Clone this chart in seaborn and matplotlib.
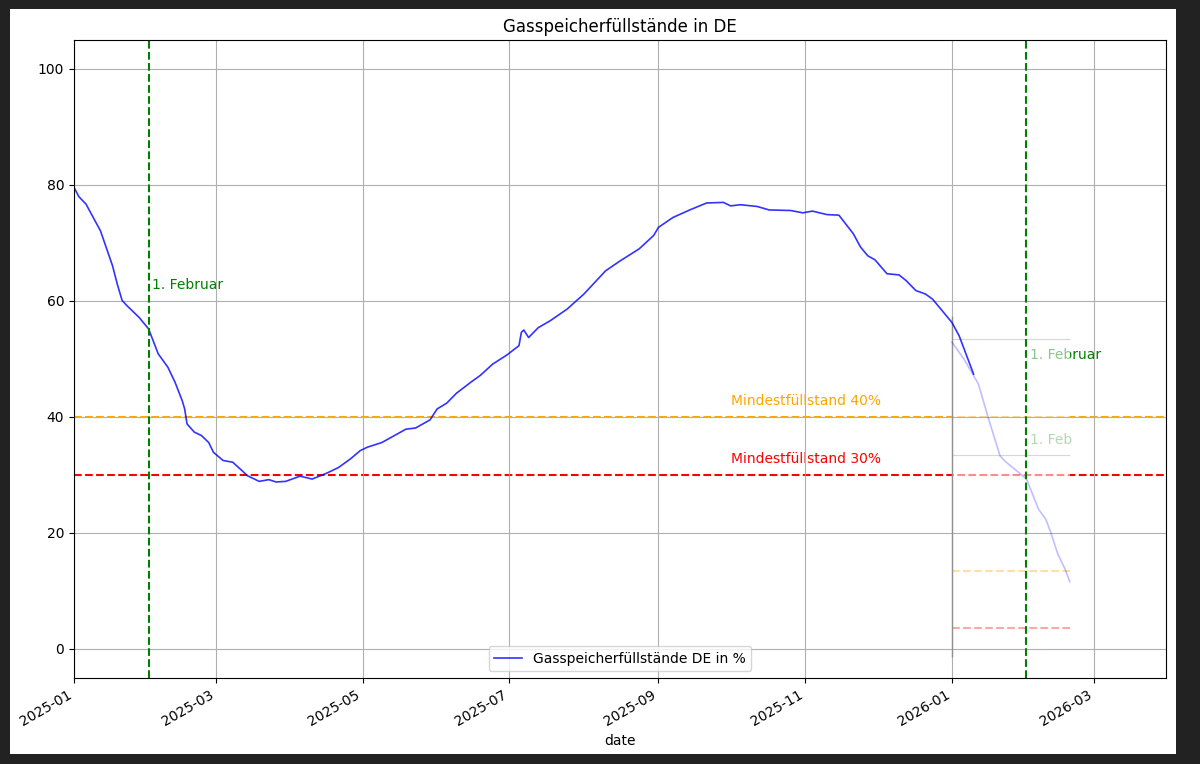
import pandas as pd
import matplotlib.pyplot as plt
import matplotlib.dates as mdates
from matplotlib.patches import Rectangle
import seaborn as sns

# Daten
dates = [
    "2025-01-01", "2025-01-03", "2025-01-06", "2025-01-12", "2025-01-17", "2025-01-19", "2025-01-21",
    "2025-01-23", "2025-01-28", "2025-02-01", "2025-02-05", "2025-02-09", "2025-02-12",
    "2025-02-15", "2025-02-16", "2025-02-17", "2025-02-20", "2025-02-23", "2025-02-26",
    "2025-02-28", "2025-03-04", "2025-03-08", "2025-03-12", "2025-03-14", "2025-03-19",
    "2025-03-23", "2025-03-26", "2025-03-30", "2025-04-05", "2025-04-10", "2025-04-16",
    "2025-04-21", "2025-04-26", "2025-04-30", "2025-05-03", "2025-05-09", "2025-05-19",
    "2025-05-23", "2025-05-29", "2025-06-01", "2025-06-05", "2025-06-09", "2025-06-15",
    "2025-06-19", "2025-06-24", "2025-06-30", "2025-07-05", "2025-07-06", "2025-07-07",
    "2025-07-09", "2025-07-13", "2025-07-18", "2025-07-25", "2025-08-01", "2025-08-10",
    "2025-08-16", "2025-08-24", "2025-08-30", "2025-09-01", "2025-09-07", "2025-09-14",
    "2025-09-21", "2025-09-28", "2025-10-01", "2025-10-05", "2025-10-12", "2025-10-17",
    "2025-10-26", "2025-10-31", "2025-11-04", "2025-11-10", "2025-11-15", "2025-11-21",
    "2025-11-24", "2025-11-27", "2025-11-30", "2025-12-05", "2025-12-10", "2025-12-13",
    "2025-12-17", "2025-12-21", "2025-12-24", "2026-01-01", "2026-01-04", "2026-01-10",
]
values = [
    79.6, 78.0, 76.7, 72.1, 66.1, 62.9, 60.1,
    59.2, 57.2, 55.2, 50.9, 48.6, 46.0,
    42.8, 41.4, 38.8, 37.4, 36.8, 35.6,
    33.9, 32.5, 32.2, 30.7, 29.9, 28.9,
    29.2, 28.8, 28.9, 29.8, 29.3, 30.3,
    31.3, 32.8, 34.2, 34.8, 35.6, 37.9,
    38.1, 39.5, 41.4, 42.4, 44.1, 46.0,
    47.2, 49.1, 50.7, 52.3, 54.6, 55.0,
    53.7, 55.4, 56.6, 58.6, 61.2, 65.2,
    66.9, 69.0, 71.3, 72.7, 74.4, 75.7,
    76.9, 77.0, 76.4, 76.6, 76.3, 75.7,
    75.6, 75.2, 75.5, 74.9, 74.8, 71.6,
    69.3, 67.8, 67.1, 64.7, 64.5, 63.5,
    61.8, 61.2, 60.3, 56.3, 54.0, 47.4,
]

# blasse Fortsetzung rechts
ghost_dates = [
    "2026-01-01", "2026-01-06", "2026-01-12", "2026-01-16", "2026-01-21", "2026-01-23",
    "2026-01-28", "2026-02-01", "2026-02-06", "2026-02-09", "2026-02-11", "2026-02-14",
    "2026-02-17", "2026-02-19",
]
ghost_values = [52.9, 50.0, 45.7, 40.0, 33.3, 32.4, 30.7, 29.3, 24.1, 22.4, 20.2, 16.4, 13.8, 11.6]

feb_dates = ["2025-02-01", "2026-02-01"]
feb_label_y = [62, 50]
limits = [40, 30]
limit_colors = ["orange", "red"]
limit_labels = ["Mindestfüllstand 40%", "Mindestfüllstand 30%"]
ghost_limits = [13.5, 3.6]
ghost_grid = [53.5, 33.5]

df = pd.DataFrame({"date": pd.to_datetime(dates), "value": values})
df_ghost = pd.DataFrame({"date": pd.to_datetime(ghost_dates), "value": ghost_values})

fig = plt.figure(figsize=(12, 7.64), dpi=100, facecolor="#222222")
fig.add_artist(Rectangle((10 / 1200, 10 / 764), 1166 / 1200, 745 / 764,
                         transform=fig.transFigure, facecolor="white", edgecolor="none", zorder=-10))
ax = fig.add_axes([74 / 1200, 86 / 764, 1092 / 1200, 638 / 764])
ax.set_axisbelow(True)
ax.grid(True)

sns.lineplot(data=df, x="date", y="value", color="blue", alpha=0.8, linewidth=1.2,
             label="Gasspeicherfüllstände DE in %", ax=ax, zorder=2)

for d, ly in zip(feb_dates, feb_label_y):
    ax.axvline(pd.Timestamp(d), color="green", linestyle="--", linewidth=1.5, zorder=2.5)
    ax.text(pd.Timestamp(d) + pd.Timedelta(days=1.5), ly, "1. Februar", color="green",
            fontsize=10, zorder=0.3)

for lv, c, lab in zip(limits, limit_colors, limit_labels):
    ax.axhline(lv, color=c, linestyle="--", linewidth=1.5, zorder=0.2)
    ax.text(pd.Timestamp("2025-10-01"), lv + 2, lab, color=c, fontsize=10, zorder=0.3)

# halbtransparente Überlagerung rechts
g0, g1 = pd.Timestamp(ghost_dates[0]), pd.Timestamp(ghost_dates[-1])
x0, x1 = mdates.date2num(g0), mdates.date2num(g1)
ax.add_patch(Rectangle((x0, -1.4), x1 - x0, 58.9, facecolor="white", alpha=0.55,
                       edgecolor="none", zorder=0.4))
ax.hlines(ghost_grid, g0, g1, color="#b0b0b0", linewidth=0.8, alpha=0.5, zorder=0.6)
for lv, c in zip(ghost_limits, limit_colors):
    ax.hlines(lv, g0, g1, color=c, linestyle="--", linewidth=1.5, alpha=0.35, zorder=0.6)
ax.text(pd.Timestamp("2026-02-01") + pd.Timedelta(days=1.5), 35.3, "1. Feb", color="green",
        fontsize=10, alpha=0.3, zorder=0.6)
sns.lineplot(data=df_ghost, x="date", y="value", color="blue", alpha=0.25, linewidth=1.2,
             legend=False, ax=ax, zorder=1)
ax.vlines(g0, -1.4, 57.5, color="#909090", linewidth=1, zorder=0.7)

ax.set_xlim(pd.Timestamp("2025-01-01"), pd.Timestamp("2026-03-31"))
ax.set_ylim(-5, 105)
ax.xaxis.set_major_locator(mdates.MonthLocator(bymonth=[1, 3, 5, 7, 9, 11]))
ax.xaxis.set_major_formatter(mdates.DateFormatter("%Y-%m"))
plt.setp(ax.get_xticklabels(), rotation=30, ha="right")
ax.set_xlabel("date")
ax.set_ylabel("")
ax.set_title("Gasspeicherfüllstände in DE")
ax.legend(loc="lower center")

plt.savefig("out.png", dpi=100, facecolor=fig.get_facecolor())
